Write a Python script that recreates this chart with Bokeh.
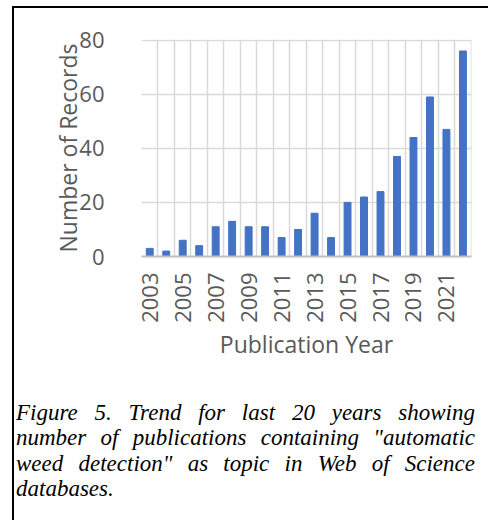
from bokeh.plotting import figure
from bokeh.models import FixedTicker, Div
from bokeh.layouts import column
from bokeh.embed import file_html
from bokeh.resources import INLINE

# Publications per year ("automatic weed detection", Web of Science)
years = list(range(2003, 2023))
records = [3, 2, 6, 4, 11, 13, 11, 11, 7, 10, 16, 7, 20, 22, 24, 37, 44, 59, 47, 76]
year_ticks = years[::2]
record_ticks = [0, 20, 40, 60, 80]

caption_lines = [
    'Figure 5. Trend for last 20 years showing',
    'number of publications containing &quot;automatic',
    'weed detection&quot; as topic in Web of Science',
    'databases.',
]

TEXT_GREY = "#595959"
FONT = "Open Sans"

p = figure(
    width=476, height=368,
    # a hair of padding so the boundary gridlines are still drawn
    x_range=(years[0] - 0.5, years[-1] + 0.52),
    y_range=(record_ticks[0], record_ticks[-1] + 0.25),
    output_backend="svg", toolbar_location=None,
    min_border_left=127, min_border_right=19,
    min_border_top=31, min_border_bottom=120,
)

p.vbar(x=years, top=records, width=0.42, color="#4472C4")

p.outline_line_color = None
p.background_fill_color = "white"
p.border_fill_color = "white"

# category boundaries as vertical gridlines
p.xgrid.ticker = FixedTicker(ticks=[y - 0.5 for y in years] + [years[-1] + 0.5])
p.xgrid.grid_line_color = "#d9d9d9"
p.xgrid.grid_line_width = 1.5
p.ygrid.ticker = FixedTicker(ticks=record_ticks)
p.ygrid.grid_line_color = "#d9d9d9"
p.ygrid.grid_line_width = 1.5

xa = p.xaxis[0]
xa.ticker = FixedTicker(ticks=year_ticks)
xa.major_label_orientation = 3.14159265 / 2
xa.axis_line_color = "#bfbfbf"
xa.axis_line_width = 2
xa.major_tick_line_color = None
xa.minor_tick_line_color = None
xa.major_tick_out = 0
xa.major_tick_in = 0
xa.minor_tick_out = 0
xa.major_label_standoff = 16
xa.major_label_text_font = FONT
xa.major_label_text_font_size = "22px"
xa.major_label_text_color = TEXT_GREY
xa.axis_label = "Publication Year"
xa.axis_label_text_font = FONT
xa.axis_label_text_font_size = "23px"
xa.axis_label_text_font_style = "normal"
xa.axis_label_text_color = TEXT_GREY
xa.axis_label_standoff = 2

ya = p.yaxis[0]
ya.ticker = FixedTicker(ticks=record_ticks)
ya.axis_line_color = None
ya.major_tick_line_color = None
ya.minor_tick_line_color = None
ya.major_tick_out = 0
ya.major_tick_in = 0
ya.minor_tick_out = 0
ya.major_label_standoff = 37
ya.major_label_text_font = FONT
ya.major_label_text_font_size = "22px"
ya.major_label_text_color = TEXT_GREY
ya.axis_label = "Number of Records"
ya.axis_label_text_font = FONT
ya.axis_label_text_font_size = "23px"
ya.axis_label_text_font_style = "normal"
ya.axis_label_text_color = TEXT_GREY
ya.axis_label_standoff = -8

line_style = ("font-family:'Liberation Serif';font-style:italic;font-size:23px;"
              "line-height:25.3px;color:#000;white-space:nowrap;")
html = '<div style="width:459px;">'
for i, line in enumerate(caption_lines):
    last = i == len(caption_lines) - 1
    align = "text-align:left;" if last else "text-align:justify;text-align-last:justify;"
    html += f'<div style="{line_style}{align}">{line}</div>'
html += "</div>"

caption = Div(text=html, width=459, margin=(24, 0, 40, 2),
              styles={"width": "459px"})

layout = column(
    p, caption,
    margin=(6, 0, 0, 12),
    styles={"border-left": "2px solid #000", "border-top": "2px solid #000",
            "background-color": "white"},
)

open("out.html", "w").write(file_html(layout, INLINE))
